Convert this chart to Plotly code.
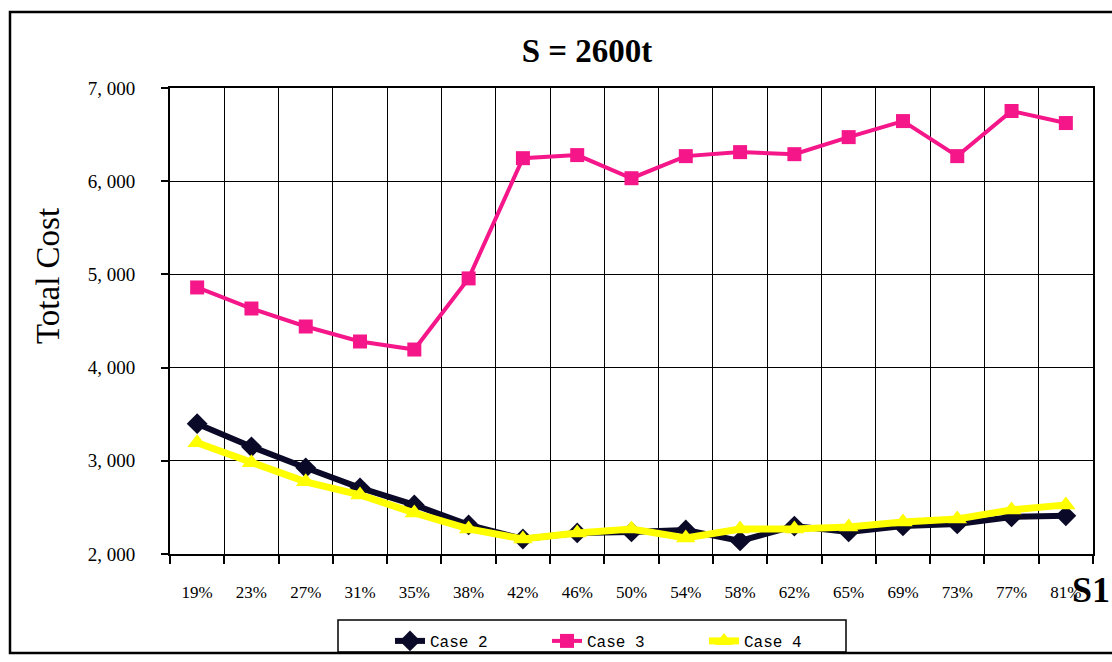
import plotly.graph_objects as go

categories = ["19%", "23%", "27%", "31%", "35%", "38%", "42%", "46%", "50%",
              "54%", "58%", "62%", "65%", "69%", "73%", "77%", "81%"]
case2 = [3398, 3150, 2925, 2710, 2527, 2312, 2161, 2226, 2237, 2258, 2140, 2300, 2237, 2301, 2323, 2398, 2410]
case3 = [4860, 4634, 4441, 4280, 4194, 4957, 6247, 6280, 6032, 6269, 6312, 6290, 6473, 6645, 6269, 6753, 6624]
case4 = [3194, 2978, 2774, 2634, 2441, 2269, 2161, 2226, 2269, 2172, 2269, 2269, 2290, 2344, 2376, 2473, 2527]
ytick_vals = [2000, 3000, 4000, 5000, 6000, 7000]
ytick_text = ["2, 000", "3, 000", "4, 000", "5, 000", "6, 000", "7, 000"]

W, H = 1112, 662
L, R, T, B = 170, 1093, 88, 554

def px(X):
    return (X - L) / (R - L)

def py(Y):
    return (B - Y) / (B - T)

fig = go.Figure()
fig.add_trace(go.Scatter(x=categories, y=case2, name="Case 2", mode="lines+markers",
                         line=dict(color="#0a0a28", width=6),
                         marker=dict(symbol="diamond", size=16, color="#0a0a28")))
fig.add_trace(go.Scatter(x=categories, y=case3, name="Case 3", mode="lines+markers",
                         line=dict(color="#f5168a", width=4),
                         marker=dict(symbol="square", size=14, color="#f5168a")))
fig.add_trace(go.Scatter(x=categories, y=case4, name="Case 4", mode="lines+markers",
                         line=dict(color="#ffff00", width=7),
                         marker=dict(symbol="triangle-up", size=17, color="#ffff00")))

serif = "Liberation Serif, Times New Roman, serif"

fig.update_layout(
    width=W, height=H,
    margin=dict(l=L, r=W - R, t=T, b=H - B, autoexpand=False),
    paper_bgcolor="white", plot_bgcolor="white",
    title=dict(text="<b>S = 2600t</b>", x=587 / W, xanchor="center",
               y=1 - 50 / H, yanchor="middle",
               font=dict(family=serif, size=33, color="black")),
    xaxis=dict(type="category", range=[-0.5, 16.5], tickson="boundaries",
               showgrid=True, gridcolor="black", gridwidth=1,
               showline=True, linecolor="black", linewidth=2, mirror=True,
               ticks="outside", ticklen=8, tickcolor="black", tickwidth=1.5,
               ticklabelstandoff=22, automargin=False,
               tickfont=dict(family=serif, size=17, color="black")),
    yaxis=dict(range=[2000, 7000], tickvals=ytick_vals, ticktext=ytick_text,
               showgrid=True, gridcolor="black", gridwidth=1,
               showline=True, linecolor="black", linewidth=2, mirror=True,
               ticks="outside", ticklen=7, tickcolor="black", tickwidth=1.5,
               ticklabelstandoff=22, zeroline=False, automargin=False,
               tickfont=dict(family=serif, size=19, color="black")),
    legend=dict(orientation="h", x=px(390), y=py(624), xanchor="left", yanchor="top",
                borderwidth=0, bgcolor="rgba(0,0,0,0)",
                entrywidth=112, entrywidthmode="pixels",
                font=dict(family="Liberation Mono, monospace", size=16, color="black"),
                tracegroupgap=0),
    showlegend=True,
)

fig.add_annotation(text="Total Cost", xref="paper", yref="paper",
                   x=px(48), y=py(276), xanchor="center", yanchor="middle",
                   textangle=-90, showarrow=False,
                   font=dict(family=serif, size=33, color="black"))

fig.add_annotation(text="<b>S1</b>", xref="paper", yref="paper",
                   x=px(1091), y=py(590), xanchor="center", yanchor="middle",
                   showarrow=False, font=dict(family=serif, size=36, color="black"))

# outer chart frame
fig.add_shape(type="rect", xref="paper", yref="paper",
              x0=px(10), x1=px(1130), y0=py(12), y1=py(653),
              line=dict(color="black", width=2.5), fillcolor="rgba(0,0,0,0)", layer="below")
# legend box
fig.add_shape(type="rect", xref="paper", yref="paper",
              x0=px(338), x1=px(846), y0=py(620), y1=py(652),
              line=dict(color="black", width=1.5), fillcolor="rgba(0,0,0,0)", layer="below")

fig.write_html("out.html", config={"displayModeBar": False},
               post_script="document.body.style.margin='0px';")
